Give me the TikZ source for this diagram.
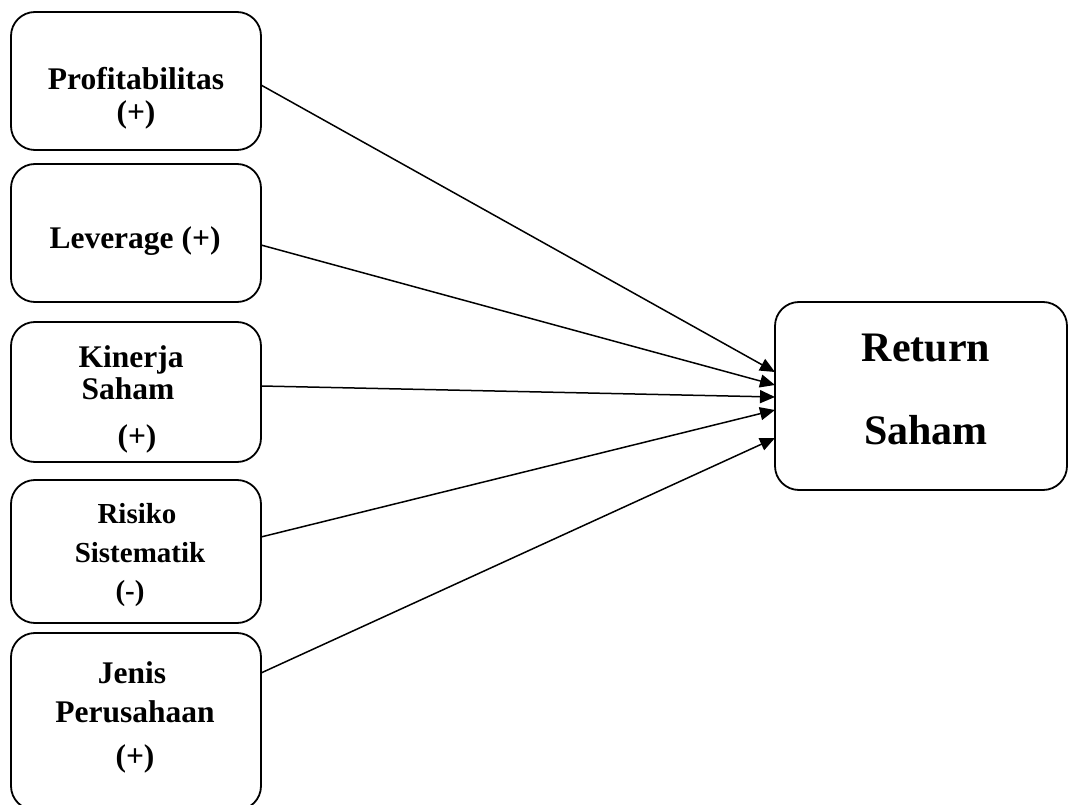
\documentclass[tikz,border=0pt]{standalone}
\usepackage{fontspec}
\setmainfont{Liberation Serif}
\usetikzlibrary{arrows.meta}
\begin{document}
\begin{tikzpicture}[x=1pt,y=-1pt,
  box/.style={draw, line width=1.8pt, rounded corners=24pt, inner sep=0pt, outer sep=0pt},
  lbl/.style={anchor=base, inner sep=0pt, font=\bfseries\fontsize{31.5}{35}\selectfont},
  lbls/.style={anchor=base, inner sep=0pt, font=\bfseries\fontsize{29}{33}\selectfont},
  lblb/.style={anchor=base, inner sep=0pt, font=\bfseries\fontsize{42}{46}\selectfont},
  arr/.style={line width=1.5pt, -{Triangle[length=15pt,width=13pt]}}]
\useasboundingbox (0,0) rectangle (1069,805);
\node[box, minimum width=250pt, minimum height=138pt] (b1) at (136,81) {};
\node[box, minimum width=250pt, minimum height=138pt] (b2) at (136,233) {};
\node[box, minimum width=250pt, minimum height=140pt] (b3) at (136,392) {};
\node[box, minimum width=250pt, minimum height=143pt] (b4) at (136,551.5) {};
\node[box, minimum width=250pt, minimum height=177pt] (b5) at (136,721.5) {};
\node[box, minimum width=292pt, minimum height=188pt] (ret) at (921,396) {};
% texts
\node[lbl] (t1a) at (136,90) {Profitabilitas};
\node[lbl] (t1b) at (136,123) {(+)};
\node[lbl] (t2a) at (135,249) {Leverage (+)};
\node[lbl] (t3a) at (131,367) {Kinerja};
\node[lbl] (t3b) at (128,399) {Saham};
\node[lbl] (t3c) at (137,446) {(+)};
\node[lbls] (t4a) at (137,523) {Risiko};
\node[lbls] (t4b) at (140,562) {Sistematik};
\node[lbls] (t4c) at (130,600) {(-)};
\node[lbl] (t5a) at (132,683) {Jenis};
\node[lbl] (t5b) at (135,722) {Perusahaan};
\node[lbl] (t5c) at (135,766) {(+)};
\node[lblb] (tra) at (926,361) {Return};
\node[lblb] (trb) at (926,444) {Saham};
% connectors
\draw[arr] ([yshift=-4pt]b1.east) -- ([yshift=24pt]ret.west);
\draw[arr] ([yshift=-12pt]b2.east) -- ([yshift=11pt]ret.west);
\draw[arr] ([yshift=6pt]b3.east) -- ([yshift=-1pt]ret.west);
\draw[arr] ([yshift=14.5pt]b4.east) -- ([yshift=-14pt]ret.west);
\draw[arr] ([yshift=48.5pt]b5.east) -- ([yshift=-42pt]ret.west);
\end{tikzpicture}
\end{document}
